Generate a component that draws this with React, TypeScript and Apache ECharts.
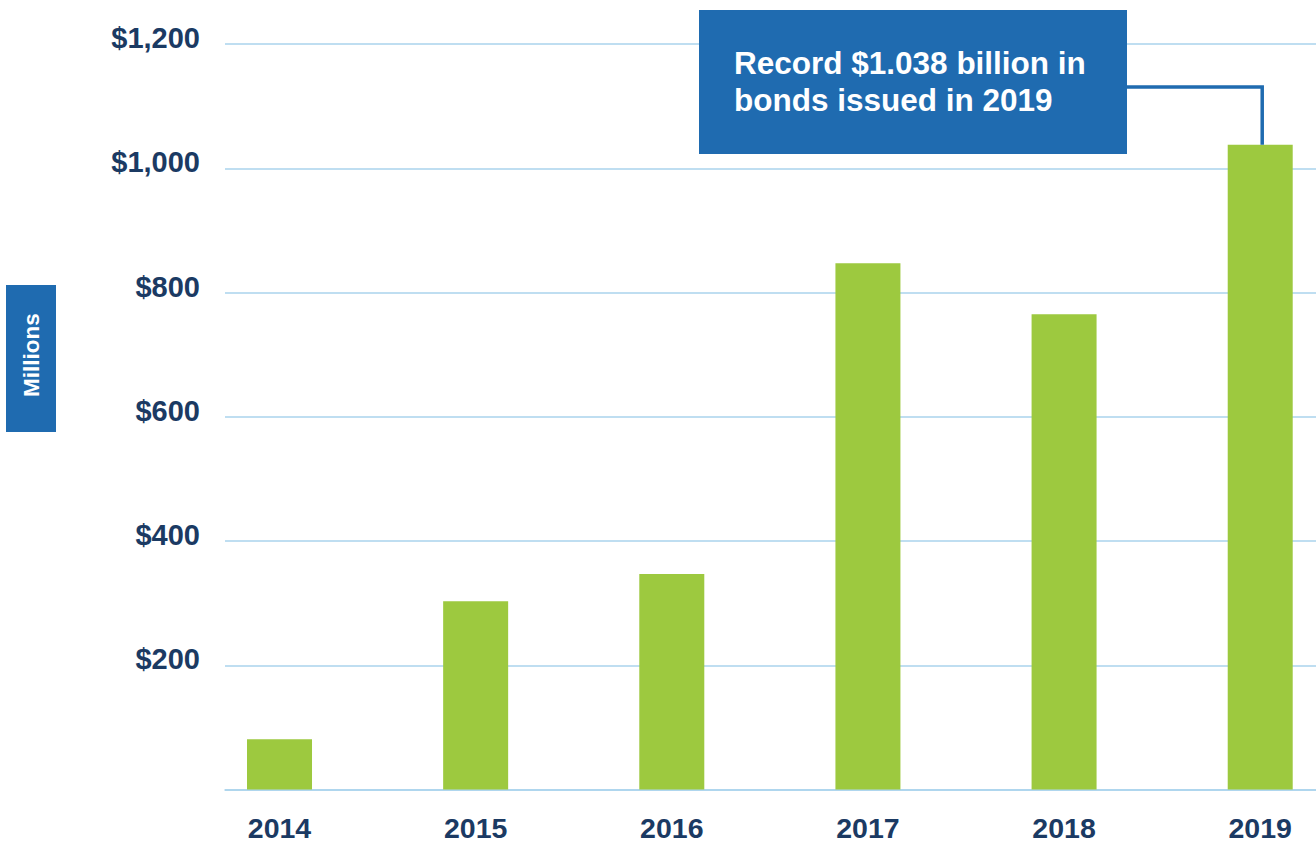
import React, { useEffect, useRef } from "react";
import * as echarts from "echarts";

const years = [2014, 2015, 2016, 2017, 2018, 2019];
const bondsIssued = [81, 303, 347, 847, 765, 1038];
const yTicks = [0, 200, 400, 600, 800, 1000, 1200];
const calloutLines = ["Record $1.038 billion in", "bonds issued in 2019"];
const axisTitle = "Millions";

const NAVY = "#1b3a63";
const BLUE = "#1f6bb0";
const GREEN = "#9dc93f";
const GRID = "#aad3ec";
const FONT = "'Liberation Sans', Arial, Helvetica, sans-serif";

export default function App() {
  const ref = useRef<HTMLDivElement>(null);

  useEffect(() => {
    document.body.style.margin = "0";
    if (!ref.current) return;
    const chart = echarts.init(ref.current, null, { renderer: "svg" });

    const option: any = {
      animation: false,
      backgroundColor: "#ffffff",
      textStyle: { fontFamily: FONT },
      grid: {
        left: 225,
        right: 0,
        top: 44,
        bottom: 843 - 789.5,
        outerBoundsMode: "none",
        containLabel: false,
      },
      xAxis: {
        type: "value",
        min: 2013.7221,
        max: 2019.2844,
        splitLine: { show: false },
        axisTick: { show: false },
        axisLine: { show: true, lineStyle: { color: GRID, width: 1.5 } },
        axisLabel: {
          customValues: years,
          formatter: (v: number) => String(Math.round(v)),
          color: NAVY,
          fontWeight: "bold",
          fontSize: 28.5,
          fontFamily: FONT,
          margin: 26,
          lineHeight: 24,
        },
      },
      yAxis: {
        type: "value",
        min: yTicks[0],
        max: yTicks[yTicks.length - 1],
        interval: 200,
        axisLine: { show: false },
        axisTick: { show: false },
        splitLine: { show: true, lineStyle: { color: GRID, width: 1.5 } },
        axisLabel: {
          formatter: (v: number) => (v === 0 ? "" : "$" + v.toLocaleString("en-US")),
          color: NAVY,
          fontWeight: "bold",
          fontSize: 29,
          fontFamily: FONT,
          margin: 25,
          verticalAlign: "bottom",
          lineHeight: 12,
        },
      },
      series: [
        {
          type: "bar",
          data: years.map((y, i) => [y, bondsIssued[i]]),
          barWidth: 65,
          itemStyle: { color: GREEN },
        },
      ],
    };
    chart.setOption(option);

    const idx = years.length - 1;
    const pt = chart.convertToPixel({ gridIndex: 0 }, [years[idx], bondsIssued[idx]]) as number[];
    const boxX = 699;
    const boxY = 10;
    const boxW = 428;
    const boxH = 144;
    const connY = 87;

    chart.setOption({
      graphic: [
        {
          type: "rect",
          shape: { x: 6, y: 285, width: 50, height: 147 },
          style: { fill: BLUE },
          z: 10,
        },
        {
          type: "text",
          x: 31,
          y: 355,
          rotation: Math.PI / 2,
          style: {
            text: axisTitle,
            fill: "#ffffff",
            font: `bold 22.5px ${FONT}`,
            textAlign: "center",
            textVerticalAlign: "middle",
          },
          z: 11,
        },
        {
          type: "polyline",
          shape: {
            points: [
              [boxX + boxW - 2, connY],
              [pt[0] + 2, connY],
              [pt[0] + 2, pt[1]],
            ],
          },
          style: { stroke: BLUE, lineWidth: 3.5, fill: "none" },
          z: 9,
        },
        {
          type: "rect",
          shape: { x: boxX, y: boxY, width: boxW, height: boxH },
          style: { fill: BLUE },
          z: 10,
        },
        {
          type: "text",
          x: 734,
          y: 63,
          style: {
            text: calloutLines[0],
            fill: "#ffffff",
            font: `bold 31.5px ${FONT}`,
            textAlign: "left",
            textVerticalAlign: "middle",
          },
          z: 11,
        },
        {
          type: "text",
          x: 734,
          y: 100,
          style: {
            text: calloutLines[1],
            fill: "#ffffff",
            font: `bold 31.5px ${FONT}`,
            textAlign: "left",
            textVerticalAlign: "middle",
          },
          z: 11,
        },
      ],
    });

    return () => chart.dispose();
  }, []);

  return <div ref={ref} style={{ width: 1316, height: 843 }} />;
}
